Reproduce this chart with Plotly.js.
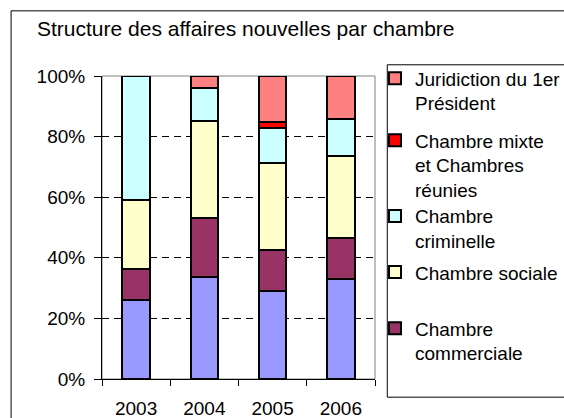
<!DOCTYPE html>
<html>
<head>
<meta charset="utf-8">
<script src="https://cdn.plot.ly/plotly-3.0.1.min.js"></script>
<style>
  body { margin: 0; overflow: hidden; background: #fff; }
  #chart { width: 564px; height: 418px; }
</style>
</head>
<body>
<div id="chart"></div>
<script>
// years on the x axis
const years = ["2003", "2004", "2005", "2006"];

// share of new cases per chamber (%), bottom of the stack first
const civiles      = [26.1, 33.6, 29.0, 32.9];
const commerciale  = [10.1, 19.5, 13.6, 13.5];
const sociale      = [22.8, 32.1, 28.8, 27.1];
const criminelle   = [41.0, 10.7, 11.5, 12.4];
const mixte        = [0, 0, 2.0, 0];
const juridiction  = [0, 4.1, 15.1, 14.1];

const yTicks = [0, 20, 40, 60, 80, 100];
const yLabels = ["0%", "20%", "40%", "60%", "80%", "100%"];

const outline = { color: "#000", width: 2 };

const mkBar = (name, y, color, legend, show) => ({
    x: years,
    y: y,
    name: name,
    type: "bar",
    width: 0.4,
    legend: legend,
    showlegend: show,
    marker: { color: color, line: outline },
    hoverinfo: "skip"
});

const data = [
    mkBar("Chambres civiles", civiles, "#9999FF", "legend", false),
    mkBar("Chambre<br>commerciale", commerciale, "#993366", "legend5", true),
    mkBar("Chambre sociale", sociale, "#FFFFCC", "legend4", true),
    mkBar("Chambre<br>criminelle", criminelle, "#CCFFFF", "legend3", true),
    mkBar("Chambre mixte<br>et Chambres<br>réunies", mixte, "#FF0000", "legend2", true),
    mkBar("Juridiction du 1er<br>Président", juridiction, "#FF8080", "legend", true)
];

// each legend entry sits in its own legend so it can be placed like the original
const legendBase = (y) => ({
    x: 1.0, y: y, xanchor: "left", yanchor: "top",
    bgcolor: "rgba(0,0,0,0)", borderwidth: 0,
    valign: "top",
    font: { family: "Liberation Sans, Arial", size: 19, color: "#000" }
});

const layout = {
    width: 564,
    height: 418,
    margin: { l: 102, r: 189, t: 76, b: 39, autoexpand: false },
    paper_bgcolor: "#fff",
    plot_bgcolor: "#fff",
    font: { family: "Liberation Sans, Arial", size: 19, color: "#000" },
    barmode: "stack",
    title: {
        text: "Structure des affaires nouvelles par chambre",
        x: 37 / 564, xanchor: "left", xref: "container",
        y: 1 - 29 / 418, yanchor: "middle", yref: "container",
        font: { size: 21, color: "#000" }
    },
    xaxis: {
        type: "category",
        showline: true, linecolor: "#000", linewidth: 1,
        ticks: "outside", tickson: "boundaries", ticklen: 6, tickcolor: "#000",
        ticklabelstandoff: 12,
        showgrid: false
    },
    yaxis: {
        range: [0, 100],
        tickvals: yTicks, ticktext: yLabels,
        showline: true, linecolor: "#000", linewidth: 1,
        ticks: "outside", ticklen: 7, tickcolor: "#000",
        ticklabelstandoff: 5,
        showgrid: true, gridcolor: "#000", gridwidth: 1, griddash: "7px,5px",
        zeroline: false
    },
    legend: legendBase(1.055),
    legend2: legendBase(0.85),
    legend3: legendBase(0.6),
    legend4: legendBase(0.415),
    legend5: legendBase(0.23),
    shapes: [
        // grey plot-area frame
        { type: "rect", xref: "paper", yref: "paper", x0: 0, x1: 1, y0: 0, y1: 1,
          line: { color: "#808080", width: 1 }, layer: "below" },
        // legend box
        { type: "rect", xref: "paper", yref: "paper", x0: 1.045, x1: 1.72, y0: -0.06, y1: 1.037,
          line: { color: "#000", width: 1 } },
        // outer chart border
        { type: "rect", xref: "paper", yref: "paper", x0: -0.333, x1: 1.8, y0: -0.2, y1: 1.215,
          line: { color: "#000", width: 1 } }
    ]
};

Plotly.newPlot("chart", data, layout, { displayModeBar: false, staticPlot: true });
</script>
</body>
</html>
